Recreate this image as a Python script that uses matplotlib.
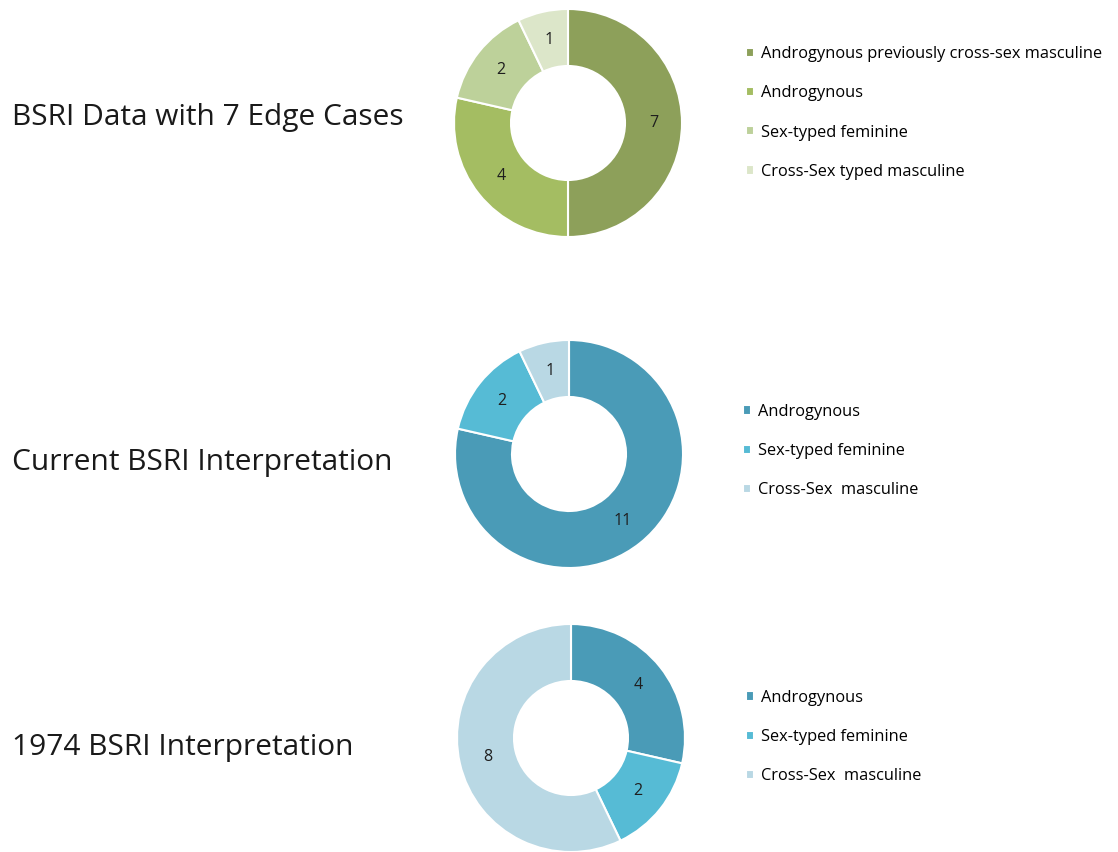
import matplotlib.pyplot as plt
import numpy as np

W, H = 1118, 852

# data
titles = ['BSRI Data with 7 Edge Cases', 'Current BSRI Interpretation', '1974 BSRI Interpretation']

edge_labels = ['Androgynous previously cross-sex masculine', 'Androgynous',
               'Sex-typed feminine', 'Cross-Sex typed masculine']
edge_values = [7, 4, 2, 1]

current_labels = ['Androgynous', 'Sex-typed feminine', 'Cross-Sex  masculine']
current_values = [11, 2, 1]

old_labels = ['Androgynous', 'Sex-typed feminine', 'Cross-Sex  masculine']
old_values = [4, 2, 8]

greens = ['#8da05a', '#a4bd62', '#bdd19a', '#dce6c9']
blues = ['#4a9bb7', '#56bbd5', '#b9d8e4']

plt.rcParams['font.family'] = ['Open Sans', 'DejaVu Sans']

fig = plt.figure(figsize=(W / 100, H / 100), dpi=100)

# donut centre and legend anchor, in pixels
panels = [
    (edge_values, edge_labels, greens, (568, 123), (746, 113)),
    (current_values, current_labels, blues, (569, 454), (743, 451)),
    (old_values, old_labels, blues, (571, 738), (746, 737)),
]
R = 114
title_y = [117, 462, 747]

for i, (vals, labs, cols, (cx, cy), (lx, ly)) in enumerate(panels):
    ax = fig.add_axes([(cx - R) / W, 1 - (cy + R) / H, 2 * R / W, 2 * R / H])
    wedges, _ = ax.pie(vals, colors=cols, startangle=90, counterclock=False,
                       radius=1.0, wedgeprops=dict(width=0.5, edgecolor='white', linewidth=1.5))
    # value labels in the middle of the ring
    total = sum(vals)
    start = 90.0
    for v in vals:
        mid = np.deg2rad(start - v / total * 360 / 2)
        start -= v / total * 360
        ax.text(0.75 * np.cos(mid), 0.75 * np.sin(mid), str(v), ha='center', va='center',
                fontsize=11.5, color='#1e1e1e')
    ax.set_xlim(-1, 1)
    ax.set_ylim(-1, 1)
    ax.set_aspect('equal')
    ax.axis('off')

    fig.text(12 / W, 1 - title_y[i] / H, titles[i], fontsize=21.5,
             color='#1a1a1a', va='center', ha='left')

    fig.legend(wedges, labs, loc='center left', bbox_to_anchor=(lx / W, 1 - ly / H),
               frameon=False, fontsize=11.8, handlelength=0.5, handleheight=0.5,
               handletextpad=0.4, labelspacing=1.42, borderpad=0, borderaxespad=0)

fig.savefig('out.png', dpi=100, facecolor='white')
